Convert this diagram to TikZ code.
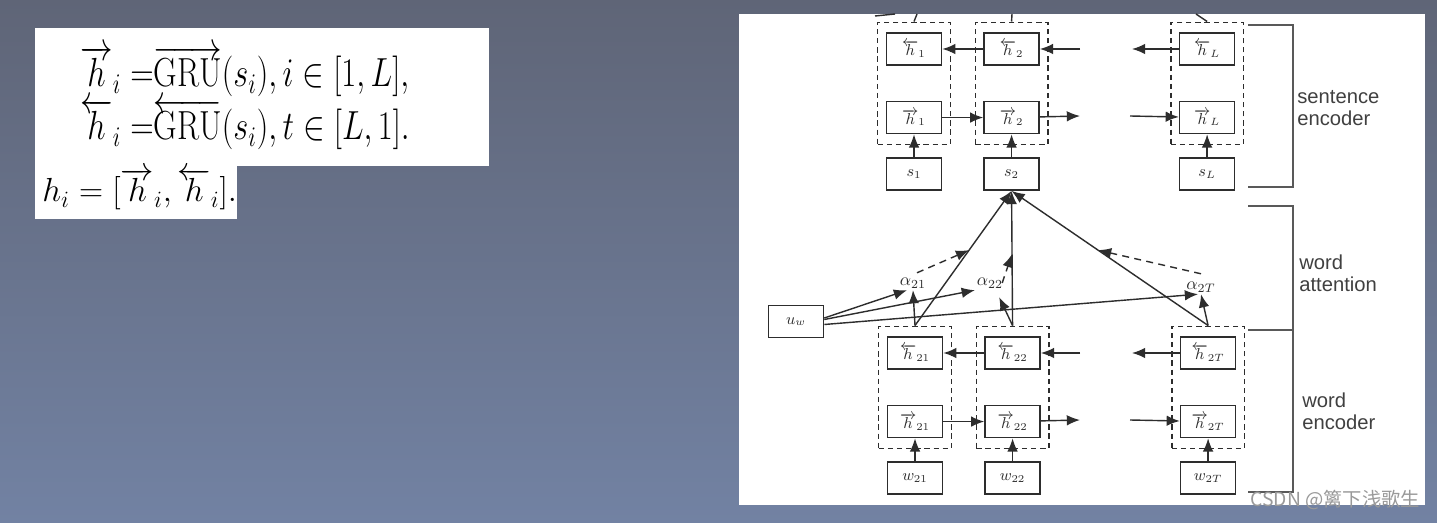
\RequirePackage{fix-cm}
\documentclass[tikz,border=0pt]{standalone}
\usepackage{fontspec}
\setsansfont{Liberation Sans}
\newfontfamily\cjkfont{Noto Sans CJK SC}
\usepackage{tikz}
\usetikzlibrary{positioning,arrows.meta,fit,calc}

\definecolor{bgtop}{RGB}{95,101,119}
\definecolor{bgbot}{RGB}{114,130,163}
\definecolor{ink}{RGB}{45,45,45}

\begin{document}
\begin{tikzpicture}[
  x=0.02cm, y=-0.02cm,
  color=ink,
  font=\fontsize{9}{10}\selectfont,
  cell/.style={draw=ink,line width=0.9pt,minimum width=1.1cm,minimum height=0.64cm,inner sep=0pt},
  grp/.style={draw=ink,dash pattern=on 3pt off 2.2pt,line width=0.8pt,inner xsep=0.16cm,inner ysep=0.2cm},
  att/.style={inner sep=1pt,font=\fontsize{10}{11}\selectfont},
  lbl/.style={align=left,anchor=west,inner sep=0pt,text=black!75,font=\sffamily\fontsize{11.5}{12.5}\selectfont},
  eqn/.style={anchor=base west,inner sep=0pt,text=black},
  brk/.style={draw=black!65,line width=0.9pt},
  link/.style={line width=0.8pt},
  >={Latex[length=7.5pt,width=6pt]},
]
\useasboundingbox (0,0) rectangle (1437,523);

% backdrop
\fill[top color=bgtop,bottom color=bgbot] (0,0) rectangle (1437,523);
\fill[white] (35,28) rectangle (489,166);
\fill[white] (35,166) rectangle (237,219);
\fill[white] (739,14) rectangle (1425,505);

% equations
\node[eqn] (eqf) at (80,87) {\fontsize{18.5}{20}\selectfont\scalebox{1}[1.25]{$\overrightarrow{h}_i\;{=}\overrightarrow{\mathrm{GRU}}(s_i), i\in[1,L],$}};
\node[eqn] (eqb) at (80,140) {\fontsize{18.5}{20}\selectfont\scalebox{1}[1.25]{$\overleftarrow{h}_i\;{=}\overleftarrow{\mathrm{GRU}}(s_i), t\in[L,1].$}};
\node[eqn] (eqh) at (42,202) {\fontsize{19}{21}\selectfont$h_i = [\overrightarrow{h}_i, \overleftarrow{h}_i].$};

% sentence encoder
\node[cell] (hb1) at (914,49) {$\overleftarrow{h}_1$};
\node[cell,below=0.7cm of hb1] (hf1) {$\overrightarrow{h}_1$};
\node[cell,below=0.46cm of hf1] (s1) {$s_1$};
\node[cell,right=0.82cm of hb1] (hb2) {$\overleftarrow{h}_2$};
\node[cell,below=0.7cm of hb2] (hf2) {$\overrightarrow{h}_2$};
\node[cell,below=0.46cm of hf2] (s2) {$s_2$};
\node[cell,right=2.78cm of hb2] (hbL) {$\overleftarrow{h}_L$};
\node[cell,below=0.7cm of hbL] (hfL) {$\overrightarrow{h}_L$};
\node[cell,below=0.46cm of hfL] (sL) {$s_L$};
\node[grp,fit=(hb1)(hf1)] (d1) {};
\node[grp,fit=(hb2)(hf2)] (d2) {};
\node[grp,fit=(hbL)(hfL)] (dL) {};

% word encoder
\node[cell] (hb21) at (915,353) {$\overleftarrow{h}_{21}$};
\node[cell,below=0.7cm of hb21] (hf21) {$\overrightarrow{h}_{21}$};
\node[cell,below=0.46cm of hf21] (w21) {$w_{21}$};
\node[cell,right=0.82cm of hb21] (hb22) {$\overleftarrow{h}_{22}$};
\node[cell,below=0.7cm of hb22] (hf22) {$\overrightarrow{h}_{22}$};
\node[cell,below=0.46cm of hf22] (w22) {$w_{22}$};
\node[cell,right=2.78cm of hb22] (hb2T) {$\overleftarrow{h}_{2T}$};
\node[cell,below=0.7cm of hb2T] (hf2T) {$\overrightarrow{h}_{2T}$};
\node[cell,below=0.46cm of hf2T] (w2T) {$w_{2T}$};
\node[grp,fit=(hb21)(hf21)] (e1) {};
\node[grp,fit=(hb22)(hf22)] (e2) {};
\node[grp,fit=(hb2T)(hf2T)] (eT) {};

% word attention
\node[cell] (uw) at (796,321.5) {$u_w$};
\node[att] (a21) at (913,283) {$\alpha_{21}$};
\node[att] (a22) at (990,283) {$\alpha_{22}$};
\node[att] (a2T) at (1201,287) {$\alpha_{2T}$};

% loose ends
\coordinate (sbi) at (1080,49);
\coordinate (sbo) at (1132,49);
\coordinate (sfo) at (1080,116);
\coordinate (sfi) at (1130,116);
\coordinate (wbi) at (1080,353);
\coordinate (wbo) at (1132,353);
\coordinate (wfo) at (1080,420);
\coordinate (wfi) at (1130,420);
\coordinate (cut0) at (875,16);
\coordinate (cut0b) at (895,14);
\coordinate (cut1) at (917,14);
\coordinate (cut2) at (1012,14);
\coordinate (cutL) at (1196,14);

% edges, sentence level
\draw[link,->] (s1) -- (hf1);
\draw[link,->] (s2) -- (hf2);
\draw[link,->] (sL) -- (hfL);
\draw[link,->] (hf1) -- (hf2);
\draw[link,->] (hf2) -- (sfo);
\draw[link,->] (sfi) -- (hfL);
\draw[link,->] (sbi) -- (hb2);
\draw[link,->] (hb2) -- (hb1);
\draw[link,->] (hbL) -- (sbo);
\draw[link] (cut0) -- (cut0b);
\draw[link] (d1.north) -- (cut1);
\draw[link] (d2.north) -- (cut2);
\draw[link] (dL.north) -- (cutL);

% edges, word level
\draw[link,->] (w21) -- (hf21);
\draw[link,->] (w22) -- (hf22);
\draw[link,->] (w2T) -- (hf2T);
\draw[link,->] (hf21) -- (hf22);
\draw[link,->] (hf22) -- (wfo);
\draw[link,->] (wfi) -- (hf2T);
\draw[link,->] (wbi) -- (hb22);
\draw[link,->] (hb22) -- (hb21);
\draw[link,->] (hb2T) -- (wbo);

% attention
\draw[link,->] (e1.north) -- (s2.south);
\draw[link,->] (e2.north) -- (s2.south);
\draw[link,->] (eT.north) -- (s2.south);
\draw[link,->] (e1.north) -- (a21.south);
\draw[link,->] (e2.north) -- ($(a22.south east)+(-6,7)$);
\draw[link,->] (eT.north) -- (a2T.south);
\draw[link,->] ([yshift=0.07cm]uw.east) -- ($(a21.south)+(-6,0)$);
\draw[link,->] ([yshift=0.04cm]uw.east) -- (a22.south west);
\draw[link,->] ([yshift=-0.06cm]uw.east) -- ($(a2T.south)+(-3,0)$);
\draw[link,->,dash pattern=on 4pt off 3pt] ($(a21.north)+(4,-3)$) -- ($(e1.north)!0.56!(s2.south)$);
\draw[link,->,dash pattern=on 4pt off 3pt] ($(a22.east)+(-3,0)$) -- ($(e2.north)!0.53!(s2.south)$);
\draw[link,->,dash pattern=on 4pt off 3pt] ($(a2T.north)+(0,-6)$) -- ($(eT.north)!0.56!(s2.south)$);

% brackets
\draw[brk] (1248,25) -- (1293,25) -- (1293,187) -- (1248,187);
\draw[brk,line width=1.6pt] (1293,25) -- (1293,70);
\draw[brk] (1248,206) -- (1293,206) -- (1293,330);
\draw[brk] (1248,330) -- (1293,330) -- (1293,492) -- (1248,492);
\draw[brk,line width=1.6pt] (1293,330) -- (1293,373);
\node[lbl] (senc) at (1297,108) {sentence\\encoder};
\node[lbl] (watt) at (1299,273.5) {word\\attention};
\node[lbl] (wenc) at (1302,411.5) {word\\encoder};

% watermark
\node[anchor=base west,inner sep=0pt,text=white!60!black,font=\cjkfont\fontsize{11}{12}\selectfont] (mark) at (1250,506) {CSDN @篱下浅歌生};
\end{tikzpicture}
\end{document}
